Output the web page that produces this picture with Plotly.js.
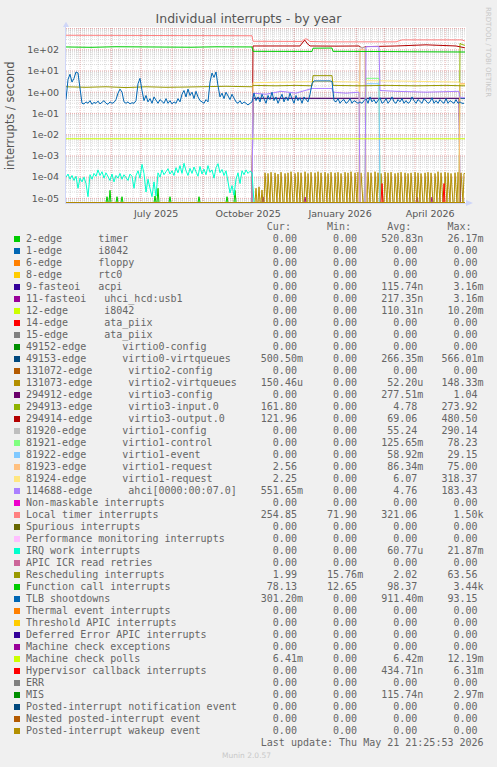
<!DOCTYPE html>
<html><head><meta charset="utf-8">
<script src="https://cdn.plot.ly/plotly-3.0.1.min.js"></script>
<style>
html,body{margin:0;padding:0;background:#F0F0F0;width:497px;height:767px;overflow:hidden}
#chart{position:absolute;left:0;top:0;width:497px;height:767px}
#legend{position:absolute;left:26px;top:221px;margin:0;font-family:'DejaVu Sans Mono',monospace;font-size:10px;line-height:12px;color:#666;white-space:pre}
.sw{position:absolute;left:14px;width:6px;height:6px}
#munin{position:absolute;left:222px;top:751px;font-family:'DejaVu Sans',sans-serif;font-size:7.5px;color:#c8c8c8}
</style></head><body>
<div id="chart"></div>
<pre id="legend"></pre>
<div id="swatches"></div>
<div id="munin">Munin 2.0.57</div>
<script>
// ---------- legend table ----------
const seriesLabels = [
 "2-edge      timer","1-edge      i8042","6-edge      floppy","8-edge      rtc0",
 "9-fasteoi   acpi","11-fasteoi   uhci_hcd:usb1","12-edge      i8042","14-edge      ata_piix",
 "15-edge      ata_piix","49152-edge      virtio0-config","49153-edge      virtio0-virtqueues",
 "131072-edge      virtio2-config","131073-edge      virtio2-virtqueues","294912-edge      virtio3-config",
 "294913-edge      virtio3-input.0","294914-edge      virtio3-output.0","81920-edge      virtio1-config",
 "81921-edge      virtio1-control","81922-edge      virtio1-event","81923-edge      virtio1-request",
 "81924-edge      virtio1-request","114688-edge      ahci[0000:00:07.0]","Non-maskable interrupts",
 "Local timer interrupts","Spurious interrupts","Performance monitoring interrupts","IRQ work interrupts",
 "APIC ICR read retries","Rescheduling interrupts","Function call interrupts","TLB shootdowns",
 "Thermal event interrupts","Threshold APIC interrupts","Deferred Error APIC interrupts",
 "Machine check exceptions","Machine check polls","Hypervisor callback interrupts","ERR","MIS",
 "Posted-interrupt notification event","Nested posted-interrupt event","Posted-interrupt wakeup event"];
const seriesColors = [
 "#00CC00","#0066B3","#FF8000","#FFCC00","#330099","#990099","#CCFF00","#FF0000","#808080","#008F00",
 "#00487D","#B35A00","#B38F00","#6B006B","#8FB300","#B30000","#BEBEBE","#80FF80","#80C9FF","#FFC080",
 "#FFE680","#AA80FF","#EE00CC","#FF8080","#666600","#FFBFFF","#00FFCC","#CC6699","#999900","#00CC00",
 "#0066B3","#FF8000","#FFCC00","#330099","#990099","#CCFF00","#FF0000","#808080","#008F00","#00487D",
 "#B35A00","#B38F00"];
const curVals = ["0.00","0.00","0.00","0.00","0.00","0.00","0.00","0.00","0.00","0.00","500.50m","0.00","150.46u","0.00","161.80","121.96","0.00","0.00","0.00","2.56","2.25","551.65m","0.00","254.85","0.00","0.00","0.00","0.00","1.99","78.13","301.20m","0.00","0.00","0.00","0.00","6.41m","0.00","0.00","0.00","0.00","0.00","0.00"];
const minVals = ["0.00","0.00","0.00","0.00","0.00","0.00","0.00","0.00","0.00","0.00","0.00","0.00","0.00","0.00","0.00","0.00","0.00","0.00","0.00","0.00","0.00","0.00","0.00","71.90","0.00","0.00","0.00","0.00","15.76m","12.65","0.00","0.00","0.00","0.00","0.00","0.00","0.00","0.00","0.00","0.00","0.00","0.00"];
const avgVals = ["520.83n","0.00","0.00","0.00","115.74n","217.35n","110.31n","0.00","0.00","0.00","266.35m","0.00","52.20u","277.51m","4.78","69.06","55.24","125.65m","58.92m","86.34m","6.07","4.76","0.00","321.06","0.00","0.00","60.77u","0.00","2.02","98.37","911.40m","0.00","0.00","0.00","0.00","6.42m","434.71n","0.00","115.74n","0.00","0.00","0.00"];
const maxVals = ["26.17m","0.00","0.00","0.00","3.16m","3.16m","10.20m","0.00","0.00","0.00","566.01m","0.00","148.33m","1.04","273.92","480.50","290.14","78.23","29.15","75.00","318.37","183.43","0.00","1.50k","0.00","0.00","21.87m","0.00","63.56","3.44k","93.15","0.00","0.00","0.00","0.00","12.19m","6.31m","0.00","2.97m","0.00","0.00","0.00"];
const lastUpdate = "Last update: Thu May 21 21:25:53 2026";

// ---------- axis texts ----------
const yTickVals = [1e-5,1e-4,1e-3,1e-2,1e-1,1,10,100];
const yTickText = ["1e-05","1e-04","1e-03","1e-02","1e-01","1e+00","1e+01","1e+02"];
const xTickVals = ["2025-07-16","2025-10-16","2026-01-16","2026-04-16"];
const xTickText = ["July 2025","October 2025","January 2026","April 2026"];
const monthStarts = ["2025-05-01","2025-06-01","2025-07-01","2025-08-01","2025-09-01","2025-10-01","2025-11-01","2025-12-01","2026-01-01","2026-02-01","2026-03-01","2026-04-01","2026-05-01"];

// ---------- series data (day offsets from 2025-04-16 21:25) ----------
const timerDays = [0,40,41,42,43,44,45,50,51,52,55,56,57,88,89,90,91,92,93,103,104,105,132,133,134,160,161,162,168,169,170,399];
const timerVals = [0,0,1.2e-5,0,0,2.4e-5,0,0,1.2e-5,0,0,1.2e-5,0,0,1.3e-5,0,0,3e-5,0,0,1.2e-5,0,0,1.2e-5,0,0,1.2e-5,0,0,2.4e-5,0,0];
const usbDays = [0,196,197,198,238,239,240,350,351,352,365,366,367,399];
const usbVals = [0,0,1.15e-5,0,0,1.15e-5,0,0,1.15e-5,0,0,1.15e-5,0,0];
const vq0Days = [0,186,187,399];
const vq0Vals = [0,0,0.5,0.5];
const vq2Start = 188;
const vq2Vals = [
 0,0,3e-5,0,0,3.5e-5,0,0,2.5e-5,0,
 0,1.6e-4,3e-5,0,1.5e-4,2.5e-5,0,1.7e-4,3e-5,0,
 0,1.6e-4,3e-5,0,1.4e-4,3e-5,0,1.7e-4,2e-5,0,
 0,1.5e-4,3e-5,0,1.6e-4,2.5e-5,0,1.8e-4,3e-5,0,
 0,1.5e-4,3e-5,0,1.7e-4,2.5e-5,0,1.6e-4,3e-5,0,
 0,1.8e-4,3e-5,0,1.5e-4,3e-5,0,1.7e-4,2.5e-5,0,
 0,1.6e-4,3e-5,0,1.8e-4,2.5e-5,0,1.6e-4,3e-5,0,
 0,1.7e-4,3e-5,0,1.5e-4,3e-5,0,1.7e-4,2.5e-5,0,
 0,1.6e-4,3e-5,0,1.7e-4,3e-5,0,1.5e-4,2.5e-5,0,
 0,1.7e-4,3e-5,0,1.6e-4,2.5e-5,0,1.8e-4,3e-5,0,
 0,1.6e-4,3e-5,0,1.7e-4,3e-5,0,1.6e-4,2.5e-5,0,
 0,1.5e-4,3e-5,0,1.7e-4,3e-5,0,1.6e-4,2.5e-5,0,
 0,1.8e-4,3e-5,0,1.6e-4,3e-5,0,1.5e-4,3e-5,0,
 0,1.7e-4,2.5e-5,0,1.6e-4,3e-5,0,1.7e-4,3e-5,0,
 0,1.5e-4,3e-5,0,1.6e-4,2.5e-5,0,1.7e-4,3e-5,0,
 0,1.6e-4,3e-5,0,1.5e-4,3e-5,0,1.6e-4,2.5e-5,0,
 0,1.7e-4,3e-5,0,1.6e-4,3e-5,0,1.5e-4,3e-5,0,
 0,1.6e-4,2.5e-5,0,1.7e-4,3e-5,0,1.6e-4,3e-5,0,
 0,1.5e-4,3e-5,0,1.8e-4,2.5e-5,0,1.6e-4,3e-5,0,
 0,1.7e-4,3e-5,0,1.6e-4,3e-5,0,1.5e-4,2.5e-5,0,
 0,1.6e-4,3e-5,0,1.7e-4,3e-5,0,1.6e-4,3e-5,0,
 1.5e-4,1.5e-4];
const v3cfgDays = [0,186,187,393,394,399];
const v3cfgVals = [0,0,0.52,0.52,0,0];
const v3inDays = [0,393,394,396,399];
const v3inVals = [0,0,200,175,161.8];
const v3outDays = [0,186,187,200,234,237,239,241,244,270,293,296,300,330,360,390,399];
const v3outVals = [0,0,150,148,150,230,280,200,150,148,150,120,140,150,170,150,122];
const v1cfgDays = [0,293,294,299,300,399];
const v1cfgVals = [0,0,130,130,0,0];
const v1ctlDays = [0,299,300,313,314,399];
const v1ctlVals = [0,0,4.5,4.5,0,0];
const v1evtDays = [0,299,300,313,314,399];
const v1evtVals = [0,0,2.5,2.5,0,0];
const v1req1Days = [0,293,294,299,300,393,394,399];
const v1req1Vals = [0,0,100,100,0,0,2.6,2.56];
const v1req2Days = [0,186,187,220,260,293,294,299,300,340,380,393,394,399];
const v1req2Vals = [0,0,2.8,3.0,3.2,3.0,0,0,3.5,3.3,3.0,3.0,2.3,2.25];
const ahciDays = [0,186,187,200,215,230,246,266,267,280,293,294,299,300,313,314,330,360,393,394,399];
const ahciVals = [0,0,0.9,0.8,1.1,0.9,1.5,1.5,1.0,0.9,1.0,0,0,140,140,1.2,1.1,1.0,1.1,0.55,0.55];
const locDays = [0,30,60,90,120,150,186,187,200,220,236,238,240,242,244,260,280,300,330,336,360,390,396,399];
const locVals = [480,470,485,465,475,460,455,250,245,240,245,300,330,290,245,235,240,235,235,290,285,280,290,255];
const irqStep = 2;
const irqVals = [1.0e-4,1.4e-4,8e-5,1.2e-4,7e-5,1.1e-4,3e-5,9e-5,6e-5,1.0e-4,5e-5,1.2e-5,1.3e-4,8e-5,1.5e-4,1.1e-4,
 2.2e-4,1.2e-4,1.8e-4,9e-5,1.6e-4,1.1e-4,7e-5,1.4e-4,6e-5,1.2e-4,9e-5,1.5e-4,8e-5,1.3e-4,1.0e-4,7e-5,1.4e-4,1.1e-4,
 3e-5,1.2e-4,2.0e-4,9e-5,4e-4,1.5e-4,2e-5,8e-5,3e-5,1.2e-5,6e-5,1.3e-5,1.6e-4,1.0e-4,2.2e-4,1.3e-4,1.8e-4,2.5e-4,
 1.4e-4,2.0e-4,1.2e-4,2.8e-4,1.6e-4,3.5e-4,1.5e-4,4.5e-4,2.0e-4,1.2e-4,2.6e-4,1.5e-4,3.0e-4,1.8e-4,1.1e-4,3.2e-4,
 1.4e-4,2.4e-4,1.3e-4,3.5e-4,1.7e-4,2.2e-4,9e-5,2.8e-4,4.3e-4,1.6e-4,2.3e-4,1.2e-4,2.0e-4,6e-5,1.8e-5,4e-5,1.4e-5,
 8e-5,1.6e-4,5e-5,2.0e-4,1.3e-4,2.2e-4,1.5e-4,1.9e-4,1.6e-4];
const reschedDays = [0,20,40,60,80,100,120,140,160,186,187,210,230,246,247,266,267,294,320,350,380,399];
const reschedVals = [1.8,1.7,1.8,1.65,1.8,1.7,1.75,1.8,1.9,1.8,2.1,2.0,2.1,2.0,6.0,6.0,2.1,2.0,2.1,2.0,2.1,1.99];
const fcDays = [0,25,50,75,100,125,150,175,186,187,210,230,246,247,266,267,294,320,350,380,399];
const fcVals = [135,130,138,133,136,131,137,132,135,84,82,80,83,118,120,84,86,82,80,77,78];
const tlbStep = 2;
const tlbVals = [0.45,4,7,3,4.5,9,8,1.5,0.3,
 0.28,0.35,0.3,0.4,0.27,0.33,0.3,0.38,0.28,0.32,0.4,0.3,0.27,0.35,0.3,0.33,0.45,
 0.9,1.4,1.0,0.35, 0.3,0.35,0.28,0.32,0.3,0.4, 2.5,4.5,1.2,
 0.4,0.7,0.35,0.5,0.3,0.6,0.4,0.3,0.45, 0.35,0.3,0.5,0.3,0.4,0.28,0.35,0.3,0.5,0.35,
 0.8,1.2,0.6,1.4,0.7,1.0,0.5,1.1,0.6,0.4, 0.35,0.3,0.45,0.35, 3,8,5,9,2,
 0.6,0.9,0.5,1.0,0.7,0.45,0.8,0.5, 0.35,0.3,0.4,0.28,0.35,0.3,0.25,0.3,0.35,
 0.9,0.4,0.6,0.35,0.8,0.5,0.3,0.7,0.45,1.0,0.4,0.6,0.3,0.5,0.8,0.35,0.6,0.4,0.9,0.5,0.3,0.7,0.4,0.55,0.3,0.6,0.45,0.35,0.8,
 2.5,3.4,3.4,3.3,3.4,3.5,3.4,3.3,3.4,3.4,3.2,
 0.4,0.35,0.5,0.3,0.4,0.45,0.3,0.35,0.5,0.3,0.4,0.35,0.3,
 0.35,0.3,0.4,0.5,0.3,0.6,0.35,0.45,0.3,0.4,0.55,0.3,0.35,0.5,0.3,0.4,0.6,0.35,0.3,0.45,
 0.35,0.5,0.3,0.4,0.3,0.35,0.6,0.4,0.3,0.45,0.35,0.3,0.5,0.4,0.3,0.35,0.55,0.3,0.4,0.3,
 0.45,0.35,0.3,0.5,0.3,0.4,0.35,0.3,0.45,0.3,0.35,0.3,0.3];
const mcpDays = [0,399];
const mcpVals = [0.0064,0.0064];
const hypDays = [0,315,316,317,377,378,379,399];
const hypVals = [0,0,5e-5,0,0,5e-5,0,0];
const zeroDays = [0,399];
const zeroVals = [0,0];

// ---------- build ----------
const T0 = Date.UTC(2025,3,16,21,25);
function dstr(d){const t=new Date(T0+d*864e5);const p=n=>String(n).padStart(2,'0');
 return t.getUTCFullYear()+'-'+p(t.getUTCMonth()+1)+'-'+p(t.getUTCDate())+' '+p(t.getUTCHours())+':'+p(t.getUTCMinutes())+':'+p(t.getUTCSeconds());}
const FLOOR = Math.pow(10,-5.2);
const stepDays=(n,s,o)=>Array.from({length:n},(_,i)=>o+i*s);
const seriesData = {
 0:[timerDays,timerVals], 5:[usbDays,usbVals], 10:[vq0Days,vq0Vals],
 12:[[0].concat(stepDays(vq2Vals.length,1,vq2Start)),[0].concat(vq2Vals)], 13:[v3cfgDays,v3cfgVals], 14:[v3inDays,v3inVals],
 15:[v3outDays,v3outVals], 16:[v1cfgDays,v1cfgVals], 17:[v1ctlDays,v1ctlVals], 18:[v1evtDays,v1evtVals],
 19:[v1req1Days,v1req1Vals], 20:[v1req2Days,v1req2Vals], 21:[ahciDays,ahciVals], 23:[locDays,locVals],
 26:[stepDays(irqVals.length,irqStep,0).concat([188,399]),irqVals.concat([0,0])],
 28:[reschedDays,reschedVals], 29:[fcDays,fcVals], 30:[stepDays(tlbVals.length,tlbStep,0),tlbVals],
 35:[mcpDays,mcpVals], 36:[hypDays,hypVals]
};
const traces = seriesLabels.map((nm,i)=>{
 const sd = seriesData[i] || [zeroDays,zeroVals];
 return {type:'scatter',mode:'lines',name:nm,x:sd[0].map(dstr),y:sd[1].map(v=>v>0?v:FLOOR),
  line:{color:seriesColors[i],width:1},hoverinfo:'skip',showlegend:false};
});

const shapes=[];
const gGray='rgba(150,150,150,0.35)', gRed='rgba(210,80,80,0.45)';
for(let d=-6;d<=2;d++){for(let k=2;k<=9;k++){const v=k*Math.pow(10,d);
 shapes.push({type:'line',layer:'below',xref:'paper',x0:0,x1:1,yref:'y',y0:v,y1:v,line:{color:gGray,width:1,dash:'1px,1px'}});}}
for(let w=0;w<60;w++){shapes.push({type:'line',layer:'below',xref:'x',x0:dstr(4.1+7*w),x1:dstr(4.1+7*w),yref:'paper',y0:0,y1:1,line:{color:gGray,width:1,dash:'1px,1px'}});}
yTickVals.concat([1000]).forEach(v=>shapes.push({type:'line',layer:'below',xref:'paper',x0:0,x1:1,yref:'y',y0:v,y1:v,line:{color:gRed,width:1,dash:'1px,1px'}}));
monthStarts.forEach(m=>shapes.push({type:'line',layer:'below',xref:'x',x0:m,x1:m,yref:'paper',y0:0,y1:1,line:{color:gRed,width:1,dash:'1px,1px'}}));
// axis arrows
shapes.push({type:'path',xref:'paper',yref:'paper',path:'M -0.0075 1.0 L 0.0075 1.0 L 0 1.03 Z',fillcolor:'#CFD6F8',line:{width:0}});
shapes.push({type:'path',xref:'paper',yref:'paper',path:'M 1.0 -0.017 L 1.0 0.017 L 1.0175 0 Z',fillcolor:'#CFD6F8',line:{width:0}});

const font='DejaVu Sans, sans-serif';
const layout={
 width:497,height:767,margin:{l:66,r:31,t:27,b:564,pad:0},
 paper_bgcolor:'#F0F0F0',plot_bgcolor:'#FFFFFF',
 title:{text:'Individual interrupts - by year',font:{family:font,size:12.5,color:'#555'},x:0.5,xanchor:'center',xref:'container',y:1-19/767,yanchor:'middle',yref:'container'},
 xaxis:{type:'date',range:[dstr(0),dstr(400)],tickmode:'array',tickvals:xTickVals,ticktext:xTickText,showgrid:false,zeroline:false,
  showline:true,linecolor:'#CFD6F8',ticks:'outside',ticklen:2,tickcolor:'rgba(0,0,0,0)',tickfont:{family:font,size:9.5,color:'#555'}},
 yaxis:{type:'log',range:[-5.217,3.07],tickmode:'array',tickvals:yTickVals,ticktext:yTickText,showgrid:false,zeroline:false,
  showline:true,linecolor:'#CFD6F8',ticks:'outside',ticklen:4,tickcolor:'rgba(0,0,0,0)',tickfont:{family:font,size:9.5,color:'#555'}},
 shapes:shapes,
 annotations:[
  {text:'interrupts / second',xref:'paper',yref:'paper',x:-56/400,y:0.5,xanchor:'center',yanchor:'middle',textangle:-90,showarrow:false,font:{family:font,size:11.5,color:'#555'}},
  {text:'RRDTOOL / TOBI OETIKER',xref:'paper',yref:'paper',x:(488-66)/400,y:(203-52)/176,xanchor:'center',yanchor:'middle',textangle:90,showarrow:false,font:{family:font,size:7,color:'#c8c8c8'}}
 ]
};
Plotly.newPlot('chart',traces,layout,{staticPlot:true,displayModeBar:false});

// legend text
const cell=s=>(/[a-zA-Z]$/.test(s)?s:s+' ').padStart(10);
let lines=[' '.repeat(40)+'Cur:'+' '.repeat(6)+'Min:'+' '.repeat(6)+'Avg:'+' '.repeat(6)+'Max:'];
seriesLabels.forEach((l,i)=>lines.push(l.padEnd(36)+cell(curVals[i])+cell(minVals[i])+cell(avgVals[i])+cell(maxVals[i])));
lines.push(lastUpdate.padStart(76));
document.getElementById('legend').textContent=lines.join('\n');
const sw=document.getElementById('swatches');
seriesColors.forEach((c,i)=>{const d=document.createElement('div');d.className='sw';d.style.background=c;d.style.top=(239+12*i-3)+'px';sw.appendChild(d);});
</script>
</body></html>
